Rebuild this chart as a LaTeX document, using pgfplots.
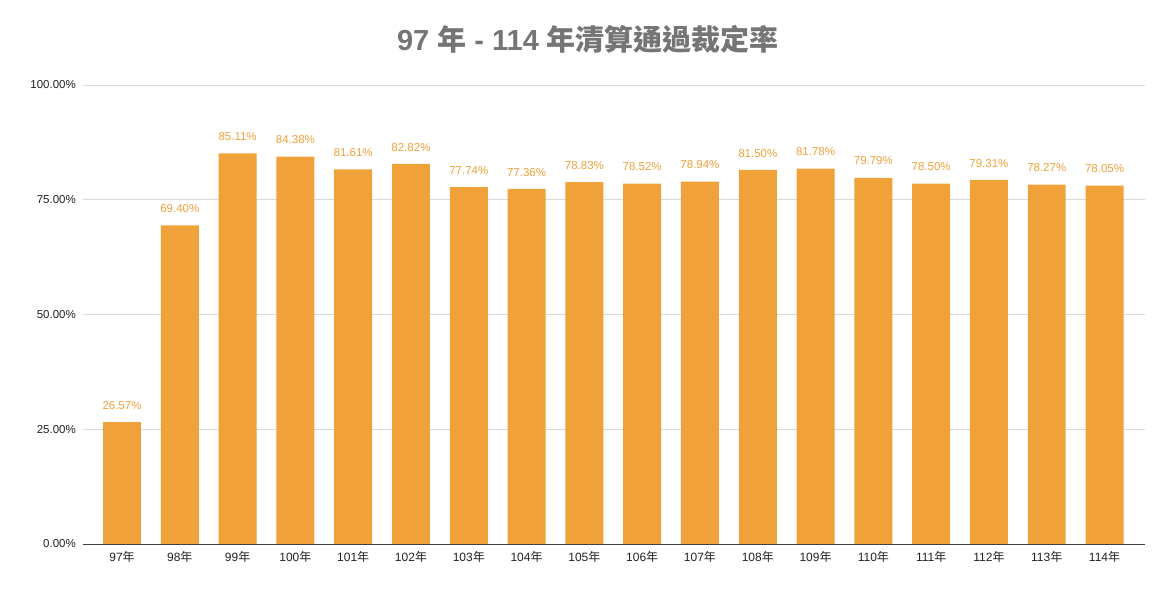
\documentclass[border=0pt]{standalone}
\usepackage{fontspec}
\setmainfont{Liberation Sans}
\newfontfamily\cjk{Noto Sans CJK TC}
\usepackage{pgfplots}
\pgfplotsset{compat=1.18}
\definecolor{barc}{HTML}{F1A13A}
\definecolor{titc}{HTML}{757575}
\definecolor{tickc}{HTML}{222222}
\definecolor{gridc}{HTML}{D9D9D9}
\newcommand{\nian}{{\cjk 年}}
\begin{document}
\begin{tikzpicture}
\path[use as bounding box, fill=white] (0,0) rectangle (1164bp,592bp);
\begin{axis}[
  at={(83bp,48bp)}, anchor=south west,
  scale only axis, width=1062bp, height=459bp,
  ymin=0, ymax=100, xmin=-0.675, xmax=17.7,
  axis line style={draw=none},
  major tick length=0pt,
  ymajorgrids, major grid style={color=gridc, line width=0.8bp},
  ytick={0,25,50,75,100},
  yticklabels={0.00\%,25.00\%,50.00\%,75.00\%,100.00\%},
  yticklabel style={font=\fontsize{11.5bp}{13bp}\selectfont, color=tickc, inner sep=0pt, xshift=-7bp},
  xtick={0,...,17},
  xticklabels={97\nian,98\nian,99\nian,100\nian,101\nian,102\nian,103\nian,104\nian,105\nian,106\nian,107\nian,108\nian,109\nian,110\nian,111\nian,112\nian,113\nian,114\nian},
  xticklabel style={font=\fontsize{12bp}{14bp}\selectfont, color=tickc, inner sep=0pt, yshift=-7bp},
  title={{\bfseries 97 {\cjk 年} - 114 {\cjk 年清算通過裁定率}}},
  title style={at={(axis description cs:0.4755,1)}, anchor=center, yshift=40bp, color=titc, font=\fontsize{29bp}{32bp}\selectfont},
  /pgf/number format/assume math mode=true,
  ybar, bar width=0.657,
  nodes near coords={\pgfmathprintnumber[fixed,fixed zerofill,precision=2]{\pgfplotspointmeta}\%},
  every node near coord/.append style={font=\fontsize{11.5bp}{13bp}\selectfont, color=barc, anchor=south, inner sep=0pt, yshift=12.5bp},
  clip=false,
]
\addplot[fill=barc, draw=none] coordinates {
(0,26.57) (1,69.40) (2,85.11) (3,84.38) (4,81.61) (5,82.82) (6,77.74) (7,77.36) (8,78.83)
(9,78.52) (10,78.94) (11,81.50) (12,81.78) (13,79.79) (14,78.50) (15,79.31) (16,78.27) (17,78.05)
};
\draw[color=black!75, line width=1bp] (axis cs:-0.675,0) -- (axis cs:17.7,0);
\end{axis}
\end{tikzpicture}
\end{document}
